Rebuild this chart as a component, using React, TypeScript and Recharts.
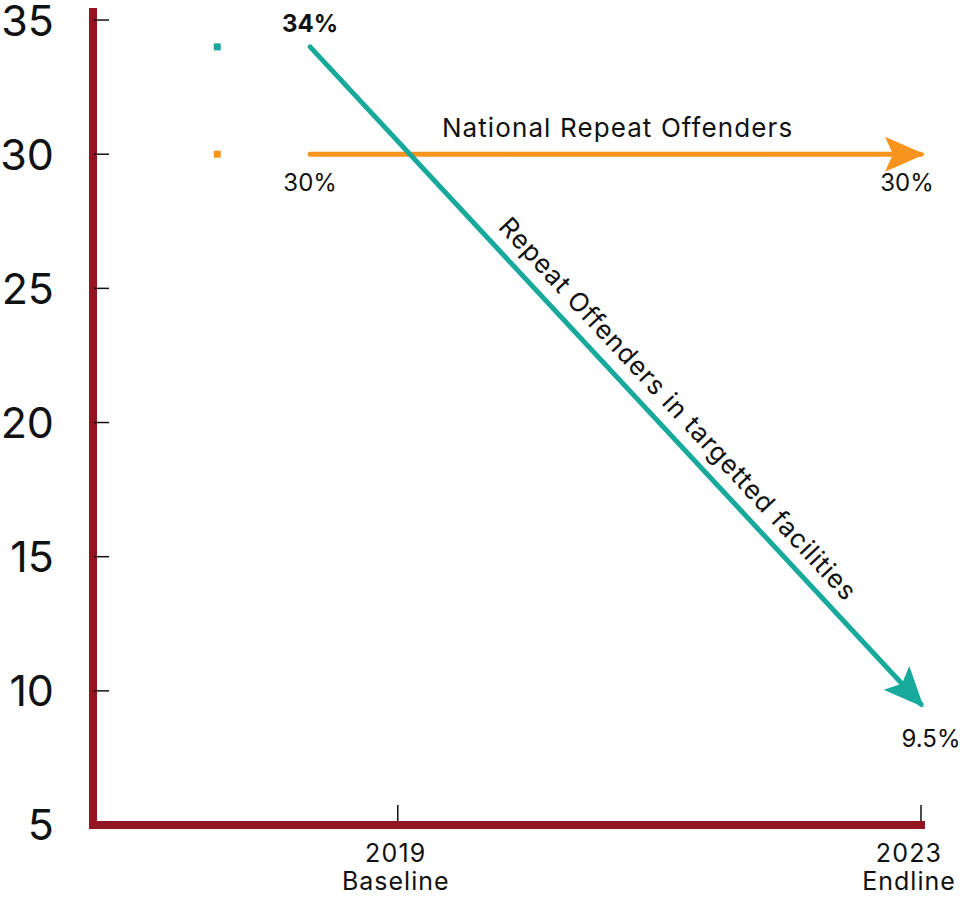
import { ComposedChart, Line, Scatter, XAxis, YAxis } from "recharts";

// values
const tickYears = [2019, 2023];
const tickNames = ["Baseline", "Endline"];
const yTicks = [5, 10, 15, 20, 25, 30, 35];
const arrowStart = 2018.33; // arrows start a little before the 2019 tick
const markerYear = 2017.62; // the small squares on the left
const facilities = [34, 9.5];
const national = [30, 30];
const facilityLabels = ["34%", "9.5%"];
const nationalLabels = ["30%", "30%"];

const TEAL = "#17A99B";
const ORANGE = "#F7941D";
const AXIS = "#921621";
const FONT = "Inter, 'Noto Sans', sans-serif";

const facilityData = facilities.map((v, i) => ({ x: i === 0 ? arrowStart : tickYears[1], v }));
const nationalData = national.map((v, i) => ({ x: i === 0 ? arrowStart : tickYears[1], v }));
const facilityMarker = [{ x: markerYear, v: facilities[0] }];
const nationalMarker = [{ x: markerYear, v: national[0] }];

const YTick = (props: any) => {
  const { x, y, payload } = props;
  return (
    <g>
      {payload.value !== 5 && (
        <line x1={x + 1} x2={x + 16} y1={y} y2={y} stroke="#111" strokeWidth={1.5} />
      )}
      <text x={x - 39} y={y} dy="0.36em" textAnchor="end" fontSize={43} fill="#111" fontFamily={FONT}>
        {payload.value}
      </text>
    </g>
  );
};

const XTick = (props: any) => {
  const { x, y, payload, index } = props;
  const shift = index === tickYears.length - 1 ? -12 : -2;
  return (
    <g>
      <line x1={x} x2={x} y1={y - 20} y2={y - 4} stroke="#111" strokeWidth={1.5} />
      <text x={x + shift} y={y + 37} textAnchor="middle" fontSize={25} letterSpacing={1.2} fill="#111" fontFamily={FONT}>
        {payload.value}
      </text>
      <text x={x + shift} y={y + 65} textAnchor="middle" fontSize={25} letterSpacing={1} fill="#111" fontFamily={FONT}>
        {tickNames[index]}
      </text>
    </g>
  );
};

const square = (color: string) => (props: any) => (
  <rect x={props.cx - 3.5} y={props.cy - 3.5} width={7} height={7} fill={color} />
);

const arrowHead = (x0: number, y0: number, x1: number, y1: number, color: string) => {
  const len = Math.hypot(x1 - x0, y1 - y0) || 1;
  const dx = (x1 - x0) / len;
  const dy = (y1 - y0) / len;
  const nx = -dy;
  const ny = dx;
  const tx = x1 + dx * 4;
  const ty = y1 + dy * 4;
  const L = 40;
  const W = 17.5;
  const pts = [
    [tx, ty],
    [tx - dx * L + nx * W, ty - dy * L + ny * W],
    [tx - dx * (L - 8), ty - dy * (L - 8)],
    [tx - dx * L - nx * W, ty - dy * L - ny * W],
  ];
  return <polygon points={pts.map((p) => p.join(",")).join(" ")} fill={color} />;
};

const makeDot = (kind: "facility" | "national") => {
  let first: { x: number; y: number } | null = null;
  return (props: any) => {
    const { cx, cy, index, points } = props;
    if (index === 0) {
      first = { x: cx, y: cy };
      return kind === "facility" ? (
        <text key="s" x={cx} y={cy - 15} textAnchor="middle" fontSize={24} fontWeight={700} fill="#111" fontFamily={FONT}>
          {facilityLabels[0]}
        </text>
      ) : (
        <text key="s" x={cx} y={cy + 37} textAnchor="middle" fontSize={24} fill="#111" fontFamily={FONT}>
          {nationalLabels[0]}
        </text>
      );
    }
    const p0 = points && points[0] ? points[0] : first || { x: cx - 100, y: cy };
    const color = kind === "facility" ? TEAL : ORANGE;
    const midX = (p0.x + cx) / 2;
    const midY = (p0.y + cy) / 2;
    if (kind === "national") {
      return (
        <g key="e">
          {arrowHead(p0.x, p0.y, cx, cy, color)}
          <text x={cx - 14} y={cy + 37} textAnchor="middle" fontSize={24} fill="#111" fontFamily={FONT}>
            {nationalLabels[1]}
          </text>
          <text x={midX + 2} y={cy - 17} textAnchor="middle" fontSize={26} letterSpacing={1.1} fill="#111" fontFamily={FONT}>
            National Repeat Offenders
          </text>
        </g>
      );
    }
    const len = Math.hypot(cx - p0.x, cy - p0.y) || 1;
    const dx = (cx - p0.x) / len;
    const dy = (cy - p0.y) / len;
    const angle = (Math.atan2(dy, dx) * 180) / Math.PI;
    const lx = midX + dx * 67 + dy * 14;
    const ly = midY + dy * 67 - dx * 14;
    return (
      <g key="e">
        {arrowHead(p0.x, p0.y, cx, cy, color)}
        <text x={cx + 10} y={cy + 43} textAnchor="middle" fontSize={24} fill="#111" fontFamily={FONT}>
          {facilityLabels[1]}
        </text>
        <text
          x={lx}
          y={ly}
          textAnchor="middle"
          fontSize={26}
          letterSpacing={1}
          fill="#111"
          fontFamily={FONT}
          transform={`rotate(${angle} ${lx} ${ly})`}
        >
          Repeat Offenders in targetted facilities
        </text>
      </g>
    );
  };
};

export default function App() {
  return (
    <div style={{ position: "absolute", left: 0, top: 0, background: "#fff" }}>
      <ComposedChart width={960} height={915} margin={{ top: 12, right: 39, bottom: 0, left: 0 }}>
        <XAxis
          type="number"
          dataKey="x"
          domain={[2016.67, 2023]}
          ticks={tickYears}
          height={90}
          tickSize={0}
          tickMargin={0}
          tickLine={false}
          axisLine={{ stroke: AXIS, strokeWidth: 8, strokeLinecap: "square" }}
          tick={<XTick />}
          interval={0}
        />
        <YAxis
          type="number"
          domain={[5, 35.3]}
          ticks={yTicks}
          width={93}
          tickSize={0}
          tickMargin={0}
          tickLine={false}
          axisLine={{ stroke: AXIS, strokeWidth: 8, strokeLinecap: "square" }}
          tick={<YTick />}
          interval={0}
        />
        <Scatter data={facilityMarker} dataKey="v" shape={square(TEAL)} isAnimationActive={false} />
        <Scatter data={nationalMarker} dataKey="v" shape={square(ORANGE)} isAnimationActive={false} />
        <Line
          data={nationalData}
          dataKey="v"
          stroke={ORANGE}
          strokeWidth={5}
          strokeLinecap="round"
          dot={makeDot("national")}
          activeDot={false}
          isAnimationActive={false}
        />
        <Line
          data={facilityData}
          dataKey="v"
          stroke={TEAL}
          strokeWidth={5}
          strokeLinecap="round"
          dot={makeDot("facility")}
          activeDot={false}
          isAnimationActive={false}
        />
      </ComposedChart>
    </div>
  );
}
